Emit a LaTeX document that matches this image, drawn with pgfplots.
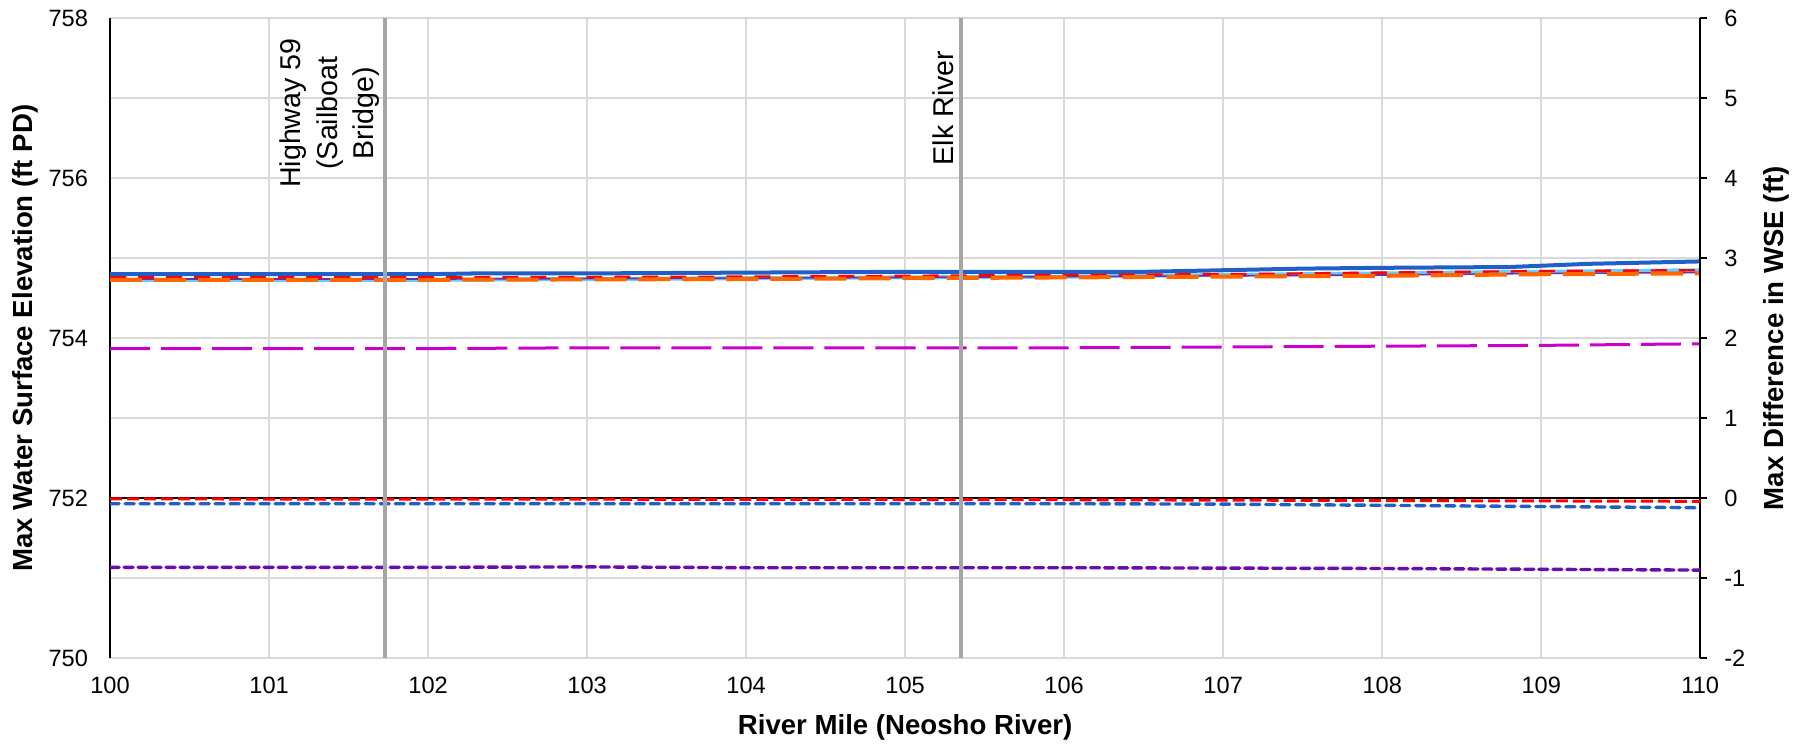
\documentclass[border=0pt]{standalone}
\usepackage{fontspec}
\setmainfont{Liberation Sans}
\usepackage{pgfplots}
\pgfplotsset{compat=1.18}
\definecolor{dblue}{HTML}{1F5FC8}
\definecolor{lblue}{HTML}{66CCFF}
\definecolor{orng}{HTML}{FF6600}
\definecolor{mgnt}{HTML}{CC00CC}
\definecolor{prpl}{HTML}{6A0DAD}
\definecolor{prpl2}{HTML}{7030A0}
\definecolor{gridgray}{HTML}{D9D9D9}
\definecolor{vgray}{HTML}{A6A6A6}
\newcommand{\tickfont}{\fontsize{11.8}{14}\selectfont}
\newcommand{\labfont}{\bfseries\fontsize{13.8}{16}\selectfont}
\newcommand{\annfont}{\fontsize{14.3}{18.3}\selectfont}
\begin{document}%
\begin{tikzpicture}%
\pgfplotsset{
  every axis/.append style={
    scale only axis, width=794.65pt, height=319.7pt,
    at={(0pt,0pt)}, anchor=south west,
    xmin=100, xmax=110,
    /pgf/number format/assume math mode=true,
  }
}
\begin{axis}[
  ymin=750, ymax=758,
  axis y line*=left, axis x line*=bottom,
  x axis line style={draw=gridgray, line width=1pt, -},
  y axis line style={black, line width=1pt, -},
  xtick={100,101,...,110},
  ytick={750,752,...,758},
  minor ytick={751,753,...,757},
  grid=both,
  major grid style={gridgray, line width=1pt},
  minor grid style={gridgray, line width=1pt},
  major tick length=0pt, minor tick length=0pt,
  xticklabel style={font=\tickfont, yshift=-6pt},
  yticklabel style={font=\tickfont, xshift=-7.5pt},
  /pgf/number format/.cd, fixed, 1000 sep={},
  /pgfplots/.cd,
  xlabel={River Mile (Neosho River)},
  xlabel style={font=\labfont, at={(axis description cs:0.5,-0.109)}, anchor=center},
  ylabel={Max Water Surface Elevation (ft PD)},
  ylabel style={font=\labfont, at={(axis description cs:-0.0535,0.5)}, anchor=center},
]
% magenta long dash
\addplot[mgnt, line width=1.5pt, dash pattern=on 20pt off 5.5pt] coordinates {
(100,753.87) (101,753.87) (102,753.87) (103,753.88) (104,753.88) (105,753.88)
(106,753.88) (107,753.89) (108,753.90) (109,753.91) (110,753.93)};
% dark blue solid
\addplot[dblue, line width=2pt] coordinates {
(100,754.80) (101,754.80) (102,754.80) (102.3,754.81) (103,754.81) (104,754.82)
(105,754.83) (106,754.83) (106.5,754.83) (107,754.85) (107.5,754.87) (108,754.88)
(108.8,754.89) (109.3,754.93) (110,754.96)};
% light blue solid
\addplot[lblue, line width=2pt] coordinates {
(100,754.73) (102,754.73) (103,754.74) (104,754.75) (105,754.76) (106,754.77)
(107,754.79) (108,754.81) (109,754.83) (110,754.85)};
% purple thin
\addplot[prpl2, line width=0.8pt] coordinates {
(100,754.74) (102,754.74) (104,754.75) (105,754.76) (106,754.77) (107,754.78)
(108,754.79) (109,754.81) (110,754.82)};
% red dashed thin
\addplot[red, line width=1.2pt, dash pattern=on 8pt off 6pt] coordinates {
(100,754.76) (102,754.76) (104,754.77) (105,754.78) (106,754.79) (107,754.80)
(108,754.82) (109,754.84) (110,754.85)};
% orange dashed
\addplot[orng, line width=2pt, dash pattern=on 16pt off 6pt] coordinates {
(100,754.73) (102,754.73) (104,754.74) (105,754.75) (106,754.76) (107,754.77)
(108,754.78) (109,754.80) (110,754.81)};
\end{axis}
\begin{axis}[
  ymin=-2, ymax=6,
  axis y line*=right, axis x line=none,
  y axis line style={black, line width=1pt, -},
  ytick={-2,-1,...,6},
  tick align=outside,
  major tick length=3.5pt,
  ytick style={black, line width=1pt},
  yticklabel style={font=\tickfont, xshift=5pt},
  ylabel={Max Difference in WSE (ft)},
  ylabel style={font=\labfont, at={(axis description cs:1.0479,0.5)}, anchor=center},
]
\addplot[black, line width=1pt] coordinates {(100,0) (110,0)};
\addplot[red, line width=1.5pt, dash pattern=on 6pt off 2.5pt] coordinates {
(100,-0.01) (104,-0.015) (106,-0.02) (108,-0.03) (110,-0.04)};
\addplot[dblue, line width=1.7pt, dash pattern=on 4.5pt off 3pt, line cap=round] coordinates {
(100,-0.07) (106,-0.07) (107,-0.075) (108,-0.09) (109,-0.105) (110,-0.12)};
\addplot[prpl, line width=1.7pt, dash pattern=on 4.5pt off 2.5pt, line cap=round] coordinates {
(100,-0.865) (102,-0.865) (103,-0.86) (104,-0.87) (106,-0.87) (108,-0.88) (109,-0.89) (110,-0.90)};
\addplot[vgray, line width=2pt] coordinates {(101.73,-2) (101.73,6)};
\addplot[vgray, line width=2pt] coordinates {(105.35,-2) (105.35,6)};
\node[rotate=90, anchor=south, align=center, inner sep=2.5pt, font=\annfont]
  at (axis cs:101.73,4.815) {Highway 59\\(Sailboat\\Bridge)};
\node[rotate=90, anchor=south, inner sep=3.5pt, font=\annfont]
  at (axis cs:105.35,4.88) {Elk River};
\end{axis}
\pgfresetboundingbox
\path[use as bounding box] (-55pt,-43.15pt) rectangle (845pt,328.85pt);
\end{tikzpicture}%
\end{document}
